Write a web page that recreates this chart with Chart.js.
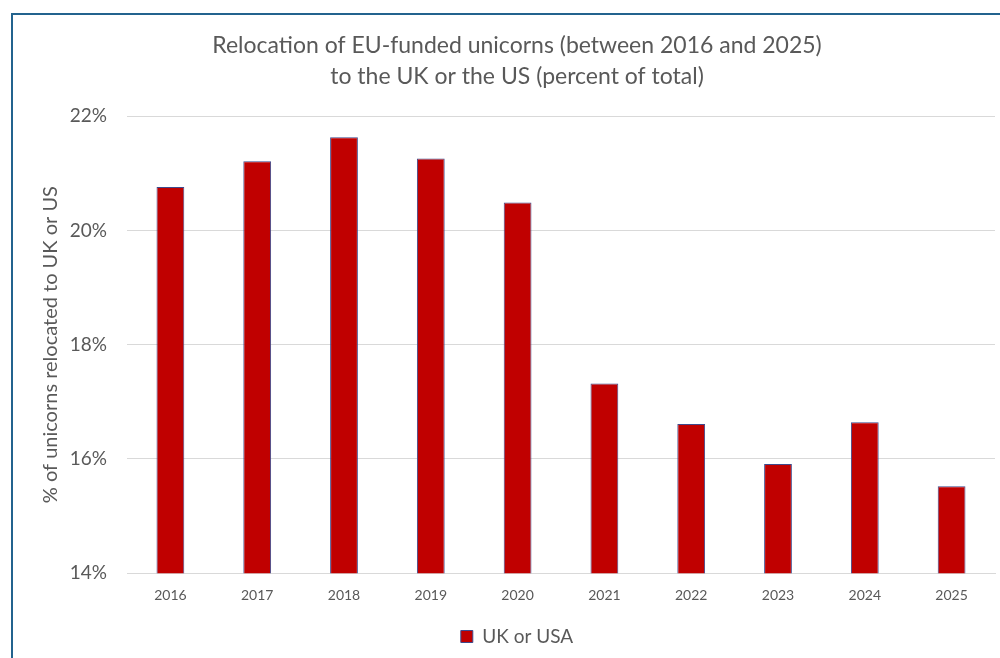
<!DOCTYPE html>
<html>
<head>
<meta charset="utf-8">
<script src="https://cdn.jsdelivr.net/npm/chart.js@4"></script>
<style>
  html, body { margin: 0; padding: 0; background: #fff; overflow: hidden; }
  #wrap { position: relative; width: 1000px; height: 658px; }
  #frame {
    position: absolute; left: 11px; top: 13px; width: 1000px; height: 700px;
    border: 2px solid #23638e; box-sizing: border-box; pointer-events: none;
  }
  canvas { position: absolute; left: 0; top: 0; }
</style>
</head>
<body>
<div id="wrap">
  <canvas id="chart" width="1000" height="658"></canvas>
  <div id="frame"></div>
</div>
<script>
const years = ['2016', '2017', '2018', '2019', '2020', '2021', '2022', '2023', '2024', '2025'];
const ukOrUsa = [20.76, 21.21, 21.63, 21.26, 20.49, 17.32, 16.61, 15.91, 16.64, 15.52];
const yTicks = [14, 16, 18, 20, 22];

const textColor = '#595959';
const fontFamily = 'Lato, "Open Sans", sans-serif';

new Chart(document.getElementById('chart'), {
    type: 'bar',
    data: {
        labels: years,
        datasets: [{
            label: 'UK or USA',
            data: ukOrUsa,
            backgroundColor: '#c00000',
            borderColor: '#3f4a8c',
            borderWidth: 1,
            barPercentage: 0.32,
            categoryPercentage: 1
        }]
    },
    options: {
        responsive: false,
        animation: false,
        layout: { padding: { left: 39, right: 5, top: 0, bottom: 2 } },
        scales: {
            x: {
                grid: { display: false },
                border: { color: '#d9d9d9' },
                ticks: { color: textColor, font: { family: fontFamily, size: 14 }, padding: 6 }
            },
            y: {
                min: 14,
                max: 22,
                afterBuildTicks: axis => { axis.ticks = yTicks.map(v => ({ value: v })); },
                afterFit: axis => { axis.width = 88; },
                grid: { color: '#d9d9d9', drawTicks: false },
                border: { display: false },
                ticks: {
                    color: textColor,
                    font: { family: fontFamily, size: 19 },
                    padding: 20,
                    callback: v => v + '%'
                },
                title: {
                    display: true,
                    text: '% of unicorns relocated to UK or US',
                    color: textColor,
                    font: { family: fontFamily, size: 20 },
                    padding: 0
                }
            }
        },
        plugins: {
            title: {
                display: true,
                text: ['Relocation of EU-funded unicorns (between 2016 and 2025)', 'to the UK or the US (percent of total)'],
                color: textColor,
                font: { family: fontFamily, size: 23, weight: 'normal', lineHeight: 1.35 },
                padding: { top: 30, bottom: 24 }
            },
            legend: {
                position: 'bottom',
                labels: {
                    color: textColor,
                    font: { family: fontFamily, size: 19 },
                    boxWidth: 12,
                    boxHeight: 12,
                    padding: 17
                }
            },
            tooltip: { enabled: false }
        }
    }
});
</script>
</body>
</html>
